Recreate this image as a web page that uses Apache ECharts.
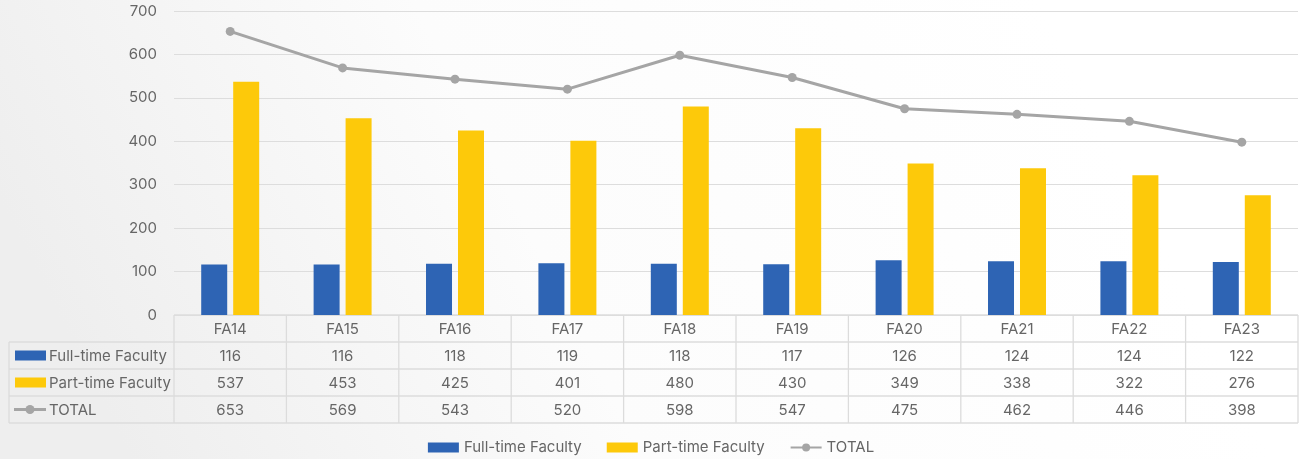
<!DOCTYPE html>
<html><head><meta charset="utf-8">
<script src="https://cdn.jsdelivr.net/npm/echarts@6/dist/echarts.min.js"></script>
<style>html,body{margin:0;padding:0;background:#fff}#c{width:1302px;height:459px}</style>
</head><body><div id="c"></div>
<script>
var categories = ['FA14','FA15','FA16','FA17','FA18','FA19','FA20','FA21','FA22','FA23'];
var fullTime = [116,116,118,119,118,117,126,124,124,122];
var partTime = [537,453,425,401,480,430,349,338,322,276];
var total = [653,569,543,520,598,547,475,462,446,398];
var seriesNames = ['Full-time Faculty','Part-time Faculty','TOTAL'];
var yTicks = [0,100,200,300,400,500,600,700];

var BLUE = '#2E64B4', YELLOW = '#FDC90A', GRAY = '#A5A5A5';
var TXT = '#666666', BORDER = '#DCDCDC';
var FONT = 'Inter, "Open Sans", sans-serif';
var G = {left:174, right:4, top:11, bottom:144};
var ROW_H = 27, LABEL_X = 9;

var chart = echarts.init(document.getElementById('c'));
var option = {
  backgroundColor: {type:'linear', x:0.8, y:0, x2:0.1, y2:1, colorStops:[
    {offset:0, color:'#FFFFFF'},{offset:0.55, color:'#FCFCFC'},{offset:1, color:'#EEEEEE'}]},
  animation:false,
  textStyle:{fontFamily:FONT},
  grid:{left:G.left, right:G.right, top:G.top, bottom:G.bottom, containLabel:false},
  legend:{bottom:4, padding:0, left:'center', itemWidth:31, itemHeight:10, itemGap:25,
    textStyle:{color:TXT, fontSize:15, fontFamily:FONT},
    data:[{name:seriesNames[0], icon:'rect'},{name:seriesNames[1], icon:'rect'},{name:seriesNames[2]}]},
  xAxis:{type:'category', data:categories, axisLine:{show:false}, axisTick:{show:false},
    axisLabel:{show:false}},
  yAxis:{type:'value', min:0, max:700, interval:100,
    axisLabel:{color:TXT, fontSize:15, margin:17, fontFamily:FONT},
    splitLine:{lineStyle:{color:'#DDDDDD', width:1}},
    axisLine:{show:false}, axisTick:{show:false}},
  series:[
    {name:seriesNames[0], type:'bar', data:fullTime, barWidth:26, barGap:'23%', itemStyle:{color:BLUE}},
    {name:seriesNames[1], type:'bar', data:partTime, barWidth:26, barGap:'23%', itemStyle:{color:YELLOW}},
    {name:seriesNames[2], type:'line', data:total, symbol:'circle', symbolSize:9,
     lineStyle:{color:GRAY, width:3}, itemStyle:{color:GRAY}, z:5}
  ]
};
chart.setOption(option);

// Build the data table beneath the plot from the axis scale
var W = chart.getWidth(), H = chart.getHeight();
var x0 = G.left, x1 = W - G.right, yTop = H - G.bottom;
var n = categories.length, catW = (x1 - x0) / n;
var els = [];
function line(xa, ya, xb, yb){
  els.push({type:'line', shape:{x1:xa, y1:ya, x2:xb, y2:yb}, style:{stroke:BORDER, lineWidth:1.3}, silent:true});
}
function txt(x, y, s, align){
  els.push({type:'text', x:x, y:y, style:{text:s, fill:TXT, font:'15px ' + FONT, align:align||'center', verticalAlign:'middle'}, silent:true});
}
line(x0, yTop, x1, yTop);
for (var r = 1; r <= 4; r++) line(LABEL_X, yTop + r*ROW_H, x1, yTop + r*ROW_H);
for (var i = 0; i <= n; i++) {
  var bx = i === n ? x1 : chart.convertToPixel({xAxisIndex:0}, categories[i]) - catW/2;
  line(bx, yTop, bx, yTop + 4*ROW_H);
}
line(LABEL_X, yTop + ROW_H, LABEL_X, yTop + 4*ROW_H);
var rows = [fullTime, partTime, total];
categories.forEach(function(c, i){
  var cx = chart.convertToPixel({xAxisIndex:0}, c);
  txt(cx, yTop + ROW_H/2 + 1, c);
  rows.forEach(function(arr, r){ txt(cx, yTop + (r+1.5)*ROW_H + 1, String(arr[i])); });
});
var keyColors = [BLUE, YELLOW];
for (var r = 0; r < 3; r++) {
  var cy = yTop + (r+1.5)*ROW_H;
  if (r < 2) {
    els.push({type:'rect', shape:{x:15, y:cy-5, width:31, height:10}, style:{fill:keyColors[r]}, silent:true});
  } else {
    els.push({type:'line', shape:{x1:14, y1:cy, x2:46, y2:cy}, style:{stroke:GRAY, lineWidth:3}, silent:true});
    els.push({type:'circle', shape:{cx:30, cy:cy, r:4.5}, style:{fill:GRAY}, silent:true});
  }
  txt(49, cy + 1, seriesNames[r], 'left');
}
chart.setOption({graphic:{elements:els}});
</script>
</body></html>
